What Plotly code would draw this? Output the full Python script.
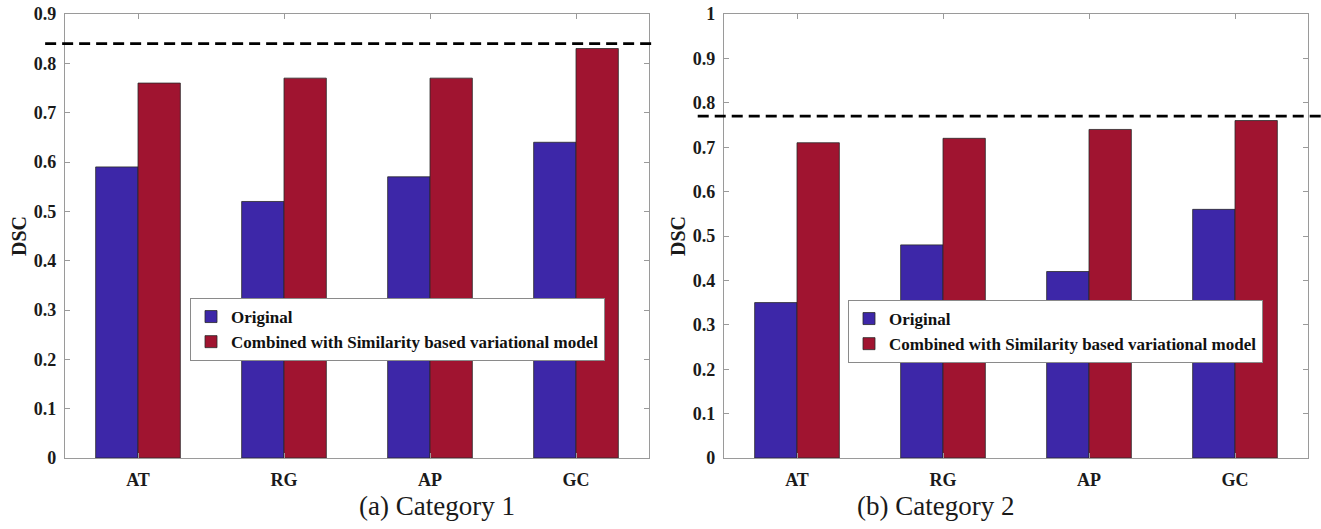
import plotly.graph_objects as go

categories = ["AT", "RG", "AP", "GC"]
cat1_original = [0.59, 0.52, 0.57, 0.64]
cat1_combined = [0.76, 0.77, 0.77, 0.83]
cat2_original = [0.35, 0.48, 0.42, 0.56]
cat2_combined = [0.71, 0.72, 0.74, 0.76]
baseline1 = 0.84
baseline2 = 0.77
ymax1 = 0.9
ymax2 = 1.0
yticks1 = [0, 0.1, 0.2, 0.3, 0.4, 0.5, 0.6, 0.7, 0.8, 0.9]
yticks2 = [0, 0.1, 0.2, 0.3, 0.4, 0.5, 0.6, 0.7, 0.8, 0.9, 1]
series_names = ["Original", "Combined with Similarity based variational model"]
subtitles = ["(a) Category 1", "(b) Category 2"]

BLUE = "#3D27A8"
RED = "#A01430"
SERIF = "Liberation Serif"

W, H = 1321, 529
fig = go.Figure()

def bar(x, y, name, color, xa, ya, legend):
    return go.Bar(x=x, y=y, name=name, marker=dict(color=color, line=dict(color="#2a2a2a", width=0.8)),
                  xaxis=xa, yaxis=ya, legend=legend, showlegend=True, offsetgroup=name)

fig.add_trace(bar(categories, cat1_original, series_names[0], BLUE, "x", "y", "legend"))
fig.add_trace(bar(categories, cat1_combined, series_names[1], RED, "x", "y", "legend"))
fig.add_trace(bar(categories, cat2_original, series_names[0], BLUE, "x2", "y2", "legend2"))
fig.add_trace(bar(categories, cat2_combined, series_names[1], RED, "x2", "y2", "legend2"))

ytop = (H - 14) / H
ybot = (H - 458) / H
dom1 = [65 / W, 649 / W]
dom2 = [724 / W, 1308 / W]

tickfont = dict(family=SERIF, size=18, color="#1a1a1a", weight="bold")
axis_common = dict(showline=True, linecolor="#9a9a9a", linewidth=1.3, mirror="ticks", ticks="inside",
                   ticklen=5, tickcolor="#9a9a9a", showgrid=False, zeroline=False, tickfont=tickfont,
                   automargin=False)
ytitle = dict(text="DSC", font=dict(family=SERIF, size=20, color="#1a1a1a", weight="bold"), standoff=1)
legfont = dict(family=SERIF, size=17, color="#111", weight="bold")

fig.update_layout(
    width=W, height=H, margin=dict(l=0, r=0, t=0, b=0, autoexpand=False),
    plot_bgcolor="white", paper_bgcolor="white",
    barmode="group", bargap=0.42, bargroupgap=0,
    font=dict(family=SERIF),
    xaxis=dict(domain=dom1, anchor="y", ticklabelstandoff=5, **axis_common),
    yaxis=dict(domain=[ybot, ytop], anchor="x", range=[0, ymax1], tickvals=yticks1,
               ticktext=[f"{v:g}" for v in yticks1], ticklabelstandoff=4, title=ytitle, **axis_common),
    xaxis2=dict(domain=dom2, anchor="y2", ticklabelstandoff=5, **axis_common),
    yaxis2=dict(domain=[ybot, ytop], anchor="x2", range=[0, ymax2], tickvals=yticks2,
                ticktext=[f"{v:g}" for v in yticks2], ticklabelstandoff=4, title=ytitle, **axis_common),
    legend=dict(x=190 / W, y=(H - 298) / H, xanchor="left", yanchor="top",
                bgcolor="white", bordercolor="#8a8a8a", borderwidth=1,
                font=legfont, tracegroupgap=0),
    legend2=dict(x=848 / W, y=(H - 300) / H, xanchor="left", yanchor="top",
                 bgcolor="white", bordercolor="#8a8a8a", borderwidth=1,
                 font=legfont, tracegroupgap=0),
)

# dashed reference lines
fig.add_shape(type="line", xref="x domain", yref="y domain", x0=-0.034, x1=1.006,
              y0=baseline1 / ymax1, y1=baseline1 / ymax1,
              line=dict(color="black", width=2.6, dash="11px,6px"), layer="above")
fig.add_shape(type="line", xref="x2 domain", yref="y2 domain", x0=-0.045, x1=1.03,
              y0=baseline2 / ymax2, y1=baseline2 / ymax2,
              line=dict(color="black", width=2.6, dash="11px,6px"), layer="above")

# subtitles
for txt, dom in zip(subtitles, [dom1, dom2]):
    fig.add_annotation(text=txt, xref="paper", yref="paper", x=(dom[0] + dom[1]) / 2, y=(H - 506) / H,
                       yanchor="middle", showarrow=False, font=dict(family=SERIF, size=27, color="#1a1a1a"))

fig.write_html("out.html", config={"displayModeBar": False},
               post_script="document.body.style.margin='0';document.body.style.overflow='hidden';")
